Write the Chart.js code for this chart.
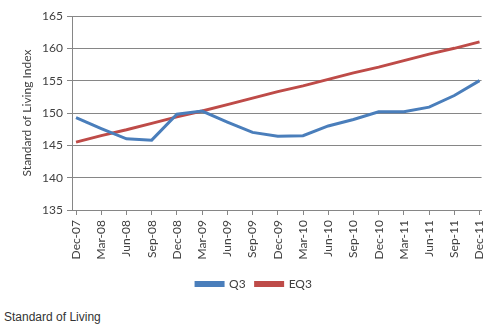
<!DOCTYPE html>
<html>
<head>
<meta charset="utf-8">
<script src="https://cdn.jsdelivr.net/npm/chart.js@4/dist/chart.umd.min.js"></script>
<style>
  body { margin: 0; background: #fff; }
  #wrap { position: relative; width: 499px; height: 300px; }
  #caption { position: absolute; left: 4px; top: 310px; font: 12px Arial, "Liberation Sans", sans-serif; color: #333; }
</style>
</head>
<body>
<div id="wrap"><canvas id="myChart" width="499" height="300"></canvas></div>
<div id="caption">Standard of Living</div>
<script>
// quarters on the x axis
const quarters = ['Dec-07', 'Mar-08', 'Jun-08', 'Sep-08', 'Dec-08', 'Mar-09', 'Jun-09', 'Sep-09',
  'Dec-09', 'Mar-10', 'Jun-10', 'Sep-10', 'Dec-10', 'Mar-11', 'Jun-11', 'Sep-11', 'Dec-11'];

const q3 = [149.3, 147.6, 146.0, 145.8, 149.8, 150.3, 148.6, 147.0,
  146.4, 146.5, 148.0, 149.0, 150.2, 150.2, 150.9, 152.7, 155.0];

const eq3 = [145.5, 146.5, 147.4, 148.4, 149.4, 150.3, 151.3, 152.3,
  153.3, 154.2, 155.2, 156.2, 157.1, 158.1, 159.1, 160.0, 161.0];

const yTicks = [135, 140, 145, 150, 155, 160, 165];

const toPoints = (vals) => vals.map((v, i) => ({ x: i, y: v }));

const font = { family: 'Lato', size: 12 };

new Chart(document.getElementById('myChart'), {
  type: 'line',
  data: {
    datasets: [{
      label: 'Q3',
      data: toPoints(q3),
      borderColor: '#4a7ebb',
      backgroundColor: '#4a7ebb',
      borderWidth: 3,
      pointRadius: 0,
      tension: 0
    }, {
      label: 'EQ3',
      data: toPoints(eq3),
      borderColor: '#be4b48',
      backgroundColor: '#be4b48',
      borderWidth: 3,
      pointRadius: 0,
      tension: 0
    }]
  },
  options: {
    responsive: false,
    animation: false,
    layout: { padding: { top: 16, right: 11, left: 20, bottom: 0 } },
    plugins: {
      tooltip: { enabled: false },
      legend: {
        position: 'bottom',
        labels: { boxWidth: 27, boxHeight: 3, color: '#404040', font: font, padding: 10 }
      }
    },
    scales: {
      x: {
        type: 'linear',
        min: -0.16,
        max: 16.08,
        afterBuildTicks: (axis) => { axis.ticks = quarters.map((q, i) => ({ value: i })); },
        afterFit: (axis) => { axis.height = 58; },
        ticks: {
          callback: (v) => quarters[v],
          minRotation: 90,
          maxRotation: 90,
          autoSkip: false,
          color: '#404040',
          font: { family: 'Lato', size: 12 },
          padding: 5
        },
        grid: { drawOnChartArea: false, drawTicks: true, tickLength: 5, color: '#868686' },
        border: { color: '#868686' }
      },
      y: {
        min: 135,
        max: 165,
        afterBuildTicks: (axis) => { axis.ticks = yTicks.map(v => ({ value: v })); },
        afterFit: (axis) => { axis.width = 52; },
        ticks: { color: '#404040', font: font, padding: 4 },
        grid: { color: '#868686', tickLength: 5 },
        border: { color: '#868686' },
        title: { display: true, text: 'Standard of Living Index', color: '#404040', font: font, padding: { top: 0, bottom: 2 } }
      }
    }
  }
});
</script>
</body>
</html>
